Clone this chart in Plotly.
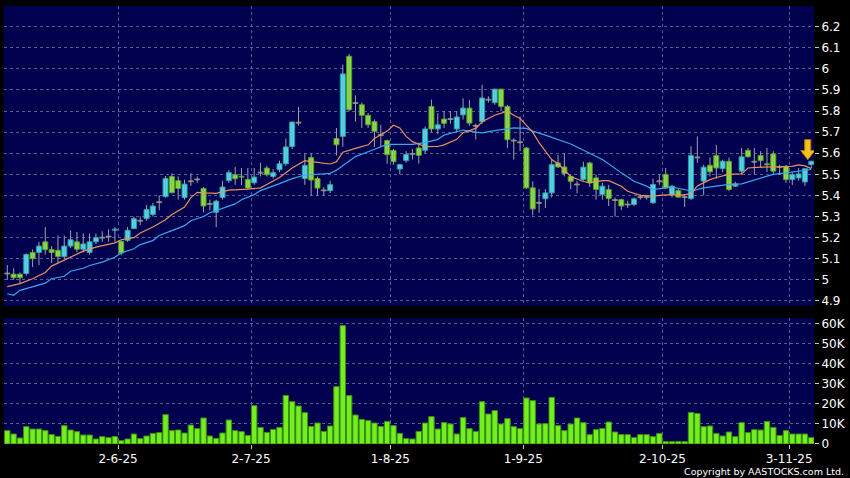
import plotly.graph_objects as go

# ---------------- data ----------------
opens = [5.03,5.027,5.027,5.03,5.13,5.13,5.18,5.143,5.14,5.11,5.16,5.18,5.145,5.13,5.18,5.20,5.205,5.235,
         5.183,5.187,5.243,5.28,5.29,5.31,5.368,5.394,5.49,5.47,5.39,5.467,5.476,5.433,5.36,5.32,5.39,5.47,
         5.498,5.49,5.476,5.46,5.508,5.53,5.49,5.522,5.55,5.632,5.745,5.48,5.58,5.48,5.424,5.423,5.67,5.68,
         6.06,5.838,5.83,5.78,5.75,5.686,5.66,5.614,5.525,5.565,5.597,5.625,5.614,5.822,5.715,5.762,5.762,5.715,
         5.782,5.814,5.73,5.751,5.854,5.84,5.904,5.822,5.66,5.652,5.625,5.436,5.365,5.384,5.412,5.554,5.535,5.49,
         5.452,5.475,5.554,5.483,5.404,5.428,5.378,5.38,5.357,5.357,5.392,5.392,5.365,5.467,5.50,5.404,5.423,5.392,
         5.385,5.58,5.468,5.543,5.589,5.527,5.562,5.444,5.515,5.614,5.56,5.589,5.55,5.597,5.535,5.538,5.475,5.483,
         5.464,5.546]
highs = [5.07,5.055,5.035,5.125,5.145,5.18,5.25,5.16,5.21,5.21,5.235,5.227,5.22,5.22,5.22,5.23,5.24,5.25,
         5.185,5.25,5.30,5.30,5.355,5.365,5.40,5.492,5.505,5.49,5.475,5.505,5.49,5.44,5.38,5.38,5.47,5.52,
         5.535,5.53,5.53,5.53,5.555,5.54,5.525,5.565,5.67,5.75,5.82,5.60,5.60,5.49,5.44,5.47,5.72,6.02,
         6.07,5.874,5.84,5.79,5.76,5.735,5.665,5.62,5.55,5.61,5.62,5.65,5.727,5.854,5.79,5.80,5.80,5.80,
         5.86,5.853,5.74,5.925,5.87,5.905,5.905,5.83,5.67,5.775,5.63,5.467,5.43,5.43,5.57,5.593,5.60,5.50,
         5.47,5.56,5.56,5.50,5.46,5.45,5.39,5.385,5.375,5.39,5.405,5.40,5.48,5.50,5.53,5.45,5.43,5.40,
         5.633,5.68,5.546,5.58,5.64,5.57,5.58,5.465,5.625,5.625,5.625,5.61,5.625,5.61,5.545,5.545,5.51,5.53,
         5.525,5.565]
lows = [5.00,5.00,4.98,5.02,5.06,5.07,5.12,5.08,5.08,5.10,5.15,5.13,5.13,5.12,5.17,5.18,5.18,5.18,
        5.116,5.18,5.24,5.26,5.28,5.30,5.33,5.39,5.41,5.38,5.38,5.445,5.46,5.32,5.33,5.25,5.38,5.46,
        5.45,5.45,5.43,5.45,5.49,5.49,5.48,5.51,5.54,5.62,5.73,5.45,5.40,5.40,5.40,5.41,5.59,5.63,
        5.80,5.75,5.72,5.72,5.63,5.63,5.55,5.545,5.50,5.555,5.57,5.55,5.60,5.70,5.69,5.72,5.74,5.70,
        5.76,5.73,5.665,5.74,5.84,5.83,5.80,5.625,5.57,5.61,5.43,5.305,5.318,5.34,5.39,5.53,5.49,5.43,
        5.41,5.47,5.44,5.38,5.38,5.35,5.30,5.33,5.34,5.35,5.38,5.38,5.36,5.45,5.43,5.39,5.39,5.345,
        5.38,5.555,5.40,5.49,5.48,5.51,5.42,5.44,5.50,5.58,5.50,5.53,5.51,5.50,5.50,5.46,5.45,5.47,
        5.444,5.53]
closes = [5.03,5.01,5.01,5.12,5.10,5.16,5.143,5.13,5.11,5.16,5.19,5.145,5.17,5.18,5.20,5.20,5.205,5.24,
          5.127,5.235,5.29,5.28,5.333,5.35,5.368,5.48,5.413,5.433,5.454,5.467,5.476,5.35,5.36,5.373,5.44,5.508,
          5.479,5.488,5.435,5.487,5.508,5.498,5.508,5.55,5.63,5.748,5.745,5.543,5.473,5.435,5.424,5.451,5.64,5.976,
          5.806,5.838,5.78,5.735,5.704,5.686,5.593,5.56,5.546,5.594,5.597,5.59,5.715,5.715,5.735,5.742,5.762,5.772,
          5.814,5.743,5.73,5.862,5.854,5.904,5.822,5.664,5.66,5.652,5.436,5.336,5.365,5.412,5.546,5.535,5.504,5.467,
          5.452,5.534,5.46,5.428,5.444,5.385,5.378,5.35,5.357,5.384,5.392,5.392,5.452,5.467,5.436,5.444,5.392,5.392,
          5.59,5.58,5.534,5.512,5.53,5.562,5.428,5.455,5.583,5.583,5.56,5.565,5.545,5.515,5.535,5.475,5.499,5.502,
          5.527,5.562]
volume_k = [6.7,5,3,8.7,7.5,7.5,6.7,4.7,3.8,9.2,7,6.2,4.5,4.5,2.5,3.7,3.2,3.8,
            1.7,2.5,5,2.7,4,5.3,5.7,14.7,6.7,7,5.5,9.5,7.7,13,4,2.8,5.5,12,
            6.7,6.2,4.3,19.2,8.3,5.8,7.3,8.3,24.3,21.2,19,15.7,8.8,10.5,6.3,9,28.7,59.2,
            24.2,14.5,12.3,11.7,10.5,8.8,11.3,9.2,5.3,2.7,2.5,6.3,10.5,13.7,7.5,10.7,10,5,
            13.3,7.7,6.3,21.2,15,16.7,10,12.7,8.7,7.7,23,21.7,10,10.2,23.3,9.2,6.7,10,
            13,10.7,4.7,7.2,7.8,11,6,4.7,4.7,3.2,4.7,4.7,3.7,5.3,1.2,1.2,1.3,1.2,
            15.8,15.3,8.7,9,5.3,4,6,3.7,10.7,5.7,7.2,7,11.3,8.3,4.3,6.7,5,5,
            5,3.2]

ma_short_idx = [0,2,4,6,7,9,10,12,14,15,17,18,20,21,23,25,26,28,29,30,31,33,35,38,40,41,43,45,47,48,50,51,52,
                53,55,57,58,60,61,62,63,64,66,68,69,71,72,74,75,77,79,80,81,83,84,85,86,87,88,89,91,92,94,95,97,
                98,100,102,103,105,106,108,109,111,112,114,116,117,119,120,122,124,125,126,127]
ma_short = [4.968,4.982,5.005,5.035,5.065,5.093,5.11,5.136,5.155,5.162,5.175,5.19,5.20,5.222,5.25,5.285,5.31,
            5.345,5.39,5.415,5.412,5.41,5.425,5.43,5.436,5.452,5.485,5.53,5.565,5.56,5.552,5.549,5.56,5.605,5.623,
            5.64,5.67,5.705,5.733,5.72,5.68,5.655,5.631,5.632,5.64,5.666,5.697,5.718,5.749,5.78,5.80,5.78,5.765,
            5.70,5.65,5.61,5.57,5.55,5.52,5.49,5.466,5.46,5.47,5.47,5.444,5.42,5.40,5.397,5.40,5.404,5.40,5.407,
            5.445,5.475,5.485,5.50,5.502,5.53,5.534,5.534,5.536,5.538,5.545,5.54,5.527]
ma_long_idx = [0,1,2,4,6,7,9,10,12,13,15,17,18,20,21,23,24,26,28,29,31,32,34,36,37,39,40,42,43,45,47,50,51,52,
               54,55,57,59,60,62,64,66,68,69,71,72,74,75,77,79,80,82,83,85,87,89,92,94,97,99,101,102,104,105,107,
               108,110,112,114,116,117,119,121,123,125,127]
ma_long = [4.934,4.927,4.95,4.968,4.984,5.005,5.017,5.041,5.055,5.068,5.084,5.107,5.128,5.147,5.167,5.186,5.21,
           5.233,5.257,5.28,5.30,5.318,5.34,5.36,5.38,5.404,5.423,5.443,5.456,5.48,5.497,5.502,5.505,5.52,5.56,
           5.584,5.607,5.631,5.642,5.642,5.642,5.65,5.666,5.686,5.702,5.71,5.70,5.697,5.707,5.718,5.72,5.718,
           5.705,5.686,5.664,5.644,5.60,5.57,5.507,5.467,5.444,5.428,5.436,5.44,5.428,5.42,5.436,5.444,5.452,
           5.455,5.464,5.48,5.50,5.507,5.515,5.523]

tick_pos = [17.5, 38.5, 60.5, 81.5, 103.5, 123.5]
tick_labels = ["2-6-25", "2-7-25", "1-8-25", "1-9-25", "2-10-25", "3-11-25"]
price_ticks = [4.9,5.0,5.1,5.2,5.3,5.4,5.5,5.6,5.7,5.8,5.9,6.0,6.1,6.2]
price_tick_text = ["4.9","5","5.1","5.2","5.3","5.4","5.5","5.6","5.7","5.8","5.9","6","6.1","6.2"]
vol_ticks_k = [0,10,20,30,40,50,60]
vol_tick_text = ["0","10K","20K","30K","40K","50K","60K"]

# ---------------- styling ----------------
BG = "#00004f"
GRID = "#5c5c94"
CYAN, CYAN_EDGE = "#3fe0f0", "#1f9aa8"
GREEN, GREEN_EDGE = "#84e82e", "#4f9a1c"
DOJI, DOJI_EDGE = "#b0b090", "#8a8a70"
WICK = "#a0a0aa"
MIN_BODY = 0.004  # visual minimum body thickness (price units) so dojis show as a thin bar

n = len(closes)
idx = list(range(n))
volume = [v * 1000 for v in volume_k]

# wick segments
wx, wy = [], []
for i in idx:
    wx += [i, i, None]
    wy += [lows[i], highs[i], None]

body_base, body_h, body_fill, body_edge = [], [], [], []
for o, c in zip(opens, closes):
    lo, hi = min(o, c), max(o, c)
    h = hi - lo
    if h < MIN_BODY:
        mid = (lo + hi) / 2
        lo, h = mid - MIN_BODY / 2, MIN_BODY
    body_base.append(lo)
    body_h.append(h)
    if c > o:
        body_fill.append(CYAN); body_edge.append(CYAN_EDGE)
    elif c < o:
        body_fill.append(GREEN); body_edge.append(GREEN_EDGE)
    else:
        body_fill.append(DOJI); body_edge.append(DOJI_EDGE)

fig = go.Figure()
fig.add_trace(go.Scatter(x=wx, y=wy, mode="lines", line=dict(color=WICK, width=1),
                         xaxis="x", yaxis="y", showlegend=False, hoverinfo="skip"))
fig.add_trace(go.Bar(x=idx, y=body_h, base=body_base, width=0.8,
                     marker=dict(color=body_fill, line=dict(color=body_edge, width=1)),
                     xaxis="x", yaxis="y", showlegend=False, hoverinfo="skip"))
fig.add_trace(go.Scatter(x=ma_long_idx, y=ma_long, mode="lines",
                         line=dict(color="#3aa6f0", width=1.2), xaxis="x", yaxis="y",
                         showlegend=False, hoverinfo="skip"))
fig.add_trace(go.Scatter(x=ma_short_idx, y=ma_short, mode="lines",
                         line=dict(color="#e8925e", width=1.2), xaxis="x", yaxis="y",
                         showlegend=False, hoverinfo="skip"))
fig.add_trace(go.Bar(x=idx, y=volume, width=0.86,
                     marker=dict(color="#72f01e", line=dict(color="#3c8c14", width=1)),
                     xaxis="x2", yaxis="y2", showlegend=False, hoverinfo="skip"))

xr = [-0.52, n - 1 + 0.43]
common_x = dict(range=xr, showgrid=True, gridcolor=GRID, griddash="3px,3px", gridwidth=1,
                zeroline=False, showline=False, tickvals=tick_pos, ticktext=tick_labels)
fig.update_layout(
    width=850, height=478,
    paper_bgcolor="black", plot_bgcolor=BG,
    margin=dict(l=4, r=33, t=6, b=34),
    font=dict(family="DejaVu Sans", size=12, color="white"),
    xaxis=dict(**common_x, domain=[0, 1], anchor="y", showticklabels=False, ticks="",
               rangeslider=dict(visible=False)),
    xaxis2=dict(**common_x, domain=[0, 1], anchor="y2", matches="x", showticklabels=True,
                ticks="outside", ticklen=4, tickcolor="#c8c8c8", tickfont=dict(size=12, color="white")),
    yaxis=dict(domain=[0.3151, 1], side="right", range=[4.876, 6.298], tickvals=price_ticks,
               ticktext=price_tick_text, showgrid=True, gridcolor=GRID, griddash="3px,3px",
               zeroline=False, ticks="outside", ticklen=4, tickcolor="#c8c8c8",
               tickfont=dict(size=12, color="white"), anchor="x"),
    yaxis2=dict(domain=[0, 0.2877], side="right", range=[0, 63000],
                tickvals=[v * 1000 for v in vol_ticks_k], ticktext=vol_tick_text,
                showgrid=True, gridcolor=GRID, griddash="3px,3px", zeroline=False,
                ticks="outside", ticklen=4, tickcolor="#c8c8c8",
                tickfont=dict(size=12, color="white"), anchor="x2"),
    barmode="overlay",
    hovermode=False,
)

# yellow marker arrow above the latest candle (pixel-sized shape anchored at last bar)
fig.add_shape(type="path", xref="x", yref="y", xsizemode="pixel", ysizemode="pixel",
              xanchor=idx[-1], yanchor=highs[-1],
              path="M -3.5,1 L -10.5,10 L -6.5,10 L -6.5,21 L -0.5,21 L -0.5,10 L 3.5,10 Z",
              fillcolor="#f6c21a", line=dict(color="#b88000", width=1), layer="above")

fig.add_annotation(text="Copyright by AASTOCKS.com Ltd.", xref="paper", yref="paper",
                   x=1.0394, y=-0.062, xanchor="right", yanchor="middle", showarrow=False,
                   font=dict(family="DejaVu Sans", size=9.5, color="white"))

fig.write_html("out.html", config={"displayModeBar": False},
               post_script="document.body.style.margin='0';document.body.style.background='black';")
